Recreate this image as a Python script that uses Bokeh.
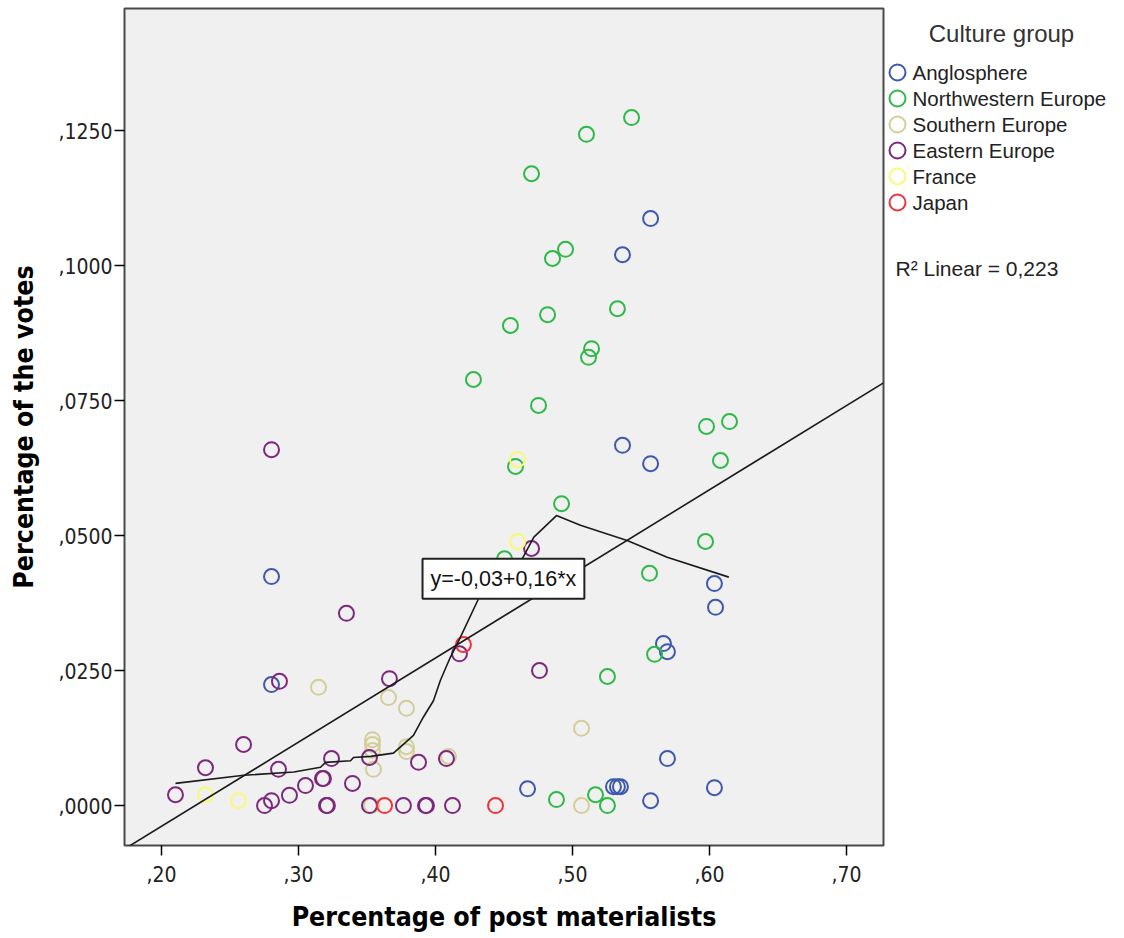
from bokeh.plotting import figure
from bokeh.layouts import row
from bokeh.models import Range1d, FixedTicker, Label, ColumnDataSource
from bokeh.core.properties import value
from bokeh.embed import file_html
from bokeh.resources import INLINE

# ---------------- data ----------------
groups = ["Anglosphere", "Northwestern Europe", "Southern Europe",
          "Eastern Europe", "France", "Japan"]
group_colors = ["#3E58AC", "#2EB848", "#D3CE97", "#7C287D", "#FBF873", "#EF3338"]

anglo_x = [0.557, 0.5365, 0.5365, 0.557, 0.6036, 0.6044, 0.5664, 0.5693, 0.2803,
           0.2803, 0.5693, 0.4672, 0.5299, 0.5328, 0.5350, 0.557, 0.6036]
anglo_y = [0.1087, 0.1020, 0.0667, 0.0633, 0.0411, 0.0367, 0.0300, 0.0285, 0.0424,
           0.0224, 0.0087, 0.0031, 0.0035, 0.0035, 0.0035, 0.0009, 0.0033]

nw_x = [0.5431, 0.5102, 0.4701, 0.4949, 0.4854, 0.4818, 0.4547, 0.5328, 0.5139,
        0.5117, 0.4277, 0.4752, 0.5978, 0.6146, 0.6080, 0.5971, 0.5562, 0.5599,
        0.5255, 0.4584, 0.4920, 0.4504, 0.4883, 0.5168, 0.5255]
nw_y = [0.1274, 0.1243, 0.1170, 0.1030, 0.1013, 0.0909, 0.0889, 0.0920, 0.0846,
        0.0830, 0.0789, 0.0741, 0.0702, 0.0711, 0.0639, 0.0489, 0.0430, 0.0280,
        0.0239, 0.0628, 0.0559, 0.0457, 0.0011, 0.0020, 0.0000]

south_x = [0.3146, 0.3657, 0.3788, 0.3540, 0.3540, 0.3540, 0.3547, 0.3788, 0.3788,
           0.4095, 0.3533, 0.5066, 0.5066]
south_y = [0.0219, 0.0200, 0.0180, 0.0122, 0.0113, 0.0102, 0.0067, 0.0109, 0.0100,
           0.0091, 0.0000, 0.0143, 0.0000]

east_x = [0.2803, 0.3350, 0.4701, 0.4175, 0.4759, 0.2861, 0.3664, 0.2599, 0.2321,
          0.2854, 0.3241, 0.3518, 0.3876, 0.4080, 0.2102, 0.2752, 0.2803, 0.2934,
          0.3051, 0.3175, 0.3182, 0.3394, 0.3204, 0.3211, 0.3518, 0.3766, 0.3927,
          0.3934, 0.4124]
east_y = [0.0659, 0.0356, 0.0476, 0.0281, 0.0250, 0.0230, 0.0235, 0.0113, 0.0070,
          0.0067, 0.0087, 0.0089, 0.0080, 0.0087, 0.0020, 0.0000, 0.0009, 0.0019,
          0.0037, 0.0050, 0.0050, 0.0041, 0.0000, 0.0000, 0.0000, 0.0000, 0.0000,
          0.0000, 0.0000]

france_x = [0.4599, 0.4599, 0.2321, 0.2562]
france_y = [0.0641, 0.0489, 0.0020, 0.0009]

japan_x = [0.4204, 0.3628, 0.4438]
japan_y = [0.0298, 0.0000, 0.0000]

# loess fit line
loess_x = [0.2102, 0.2601, 0.2966, 0.3161, 0.3197, 0.3380, 0.3401, 0.3526, 0.3693,
           0.3839, 0.3912, 0.3985, 0.4036, 0.4109, 0.4158, 0.4314, 0.4633, 0.4718,
           0.4883, 0.5058, 0.5253, 0.5399, 0.5691, 0.6141]
loess_y = [0.0041, 0.0056, 0.0062, 0.0071, 0.0080, 0.0083, 0.0089, 0.0091, 0.0097,
           0.0130, 0.0164, 0.0194, 0.0232, 0.0275, 0.0299, 0.0383, 0.0457, 0.0497,
           0.0537, 0.0519, 0.0503, 0.0491, 0.0460, 0.0423]

# linear fit
reg_intercept = -0.0350
reg_slope = 0.1558
reg_text = "y=-0,03+0,16*x"
r2_text = "R\u00b2 Linear = 0,223"
legend_title = "Culture group"

x_ticks = [0.2, 0.3, 0.4, 0.5, 0.6, 0.7]
x_tick_labels = [",20", ",30", ",40", ",50", ",60", ",70"]
y_ticks = [0.0, 0.025, 0.05, 0.075, 0.1, 0.125]
y_tick_labels = [",0000", ",0250", ",0500", ",0750", ",1000", ",1250"]

series_x = [anglo_x, nw_x, south_x, east_x, france_x, japan_x]
series_y = [anglo_y, nw_y, south_y, east_y, france_y, japan_y]

# ---------------- main figure ----------------
X0, X1 = 0.17299, 0.72701
Y0, Y1 = -0.0074, 0.1476
H = 938
TOP, BOTTOM = 8, 93

p = figure(width=885, height=H, output_backend="svg", toolbar_location=None,
           x_range=Range1d(X0, X1), y_range=Range1d(Y0, Y1),
           min_border_left=124, min_border_right=2,
           min_border_top=TOP, min_border_bottom=BOTTOM)
p.background_fill_color = "#F0F0F0"
p.border_fill_color = "white"
p.outline_line_color = "#4A4A4A"
p.outline_line_width = 2
p.grid.visible = False

TICK_FONT = "DejaVu Sans Condensed, Liberation Sans, sans-serif"

for ax in (p.xaxis[0], p.yaxis[0]):
    ax.axis_line_color = None
    ax.major_tick_out = 10
    ax.major_tick_in = 0
    ax.minor_tick_line_color = None
    ax.major_tick_line_color = "black"
    ax.major_tick_line_width = 1.5
    ax.major_label_text_font = TICK_FONT
    ax.major_label_text_font_size = "21px"
    ax.major_label_text_color = "#222222"
    ax.axis_label_text_font = TICK_FONT
    ax.axis_label_text_font_style = "bold"
    ax.axis_label_text_font_size = "26.5px"
    ax.axis_label_text_color = "black"

p.xaxis.ticker = FixedTicker(ticks=x_ticks)
p.xaxis.major_label_overrides = dict(zip(x_ticks, x_tick_labels))
p.yaxis.ticker = FixedTicker(ticks=y_ticks)
p.yaxis.major_label_overrides = dict(zip(y_ticks, y_tick_labels))
p.xaxis.major_label_standoff = 10
p.yaxis.major_label_standoff = 2
p.xaxis.axis_label = "Percentage of post materialists"
p.yaxis.axis_label = "Percentage of the votes"
p.xaxis.axis_label_standoff = 16
p.yaxis.axis_label_standoff = 16

for gx, gy, col in zip(series_x, series_y, group_colors):
    p.scatter(gx, gy, marker="circle", size=15, fill_color=None,
              line_color=col, line_width=2)

# fit lines
p.line([X0, X1], [reg_intercept + reg_slope * X0, reg_intercept + reg_slope * X1],
       line_color="#1A1A1A", line_width=1.6)
p.line(loess_x, loess_y, line_color="#1A1A1A", line_width=1.6)

# equation box
eq = Label(x=0.4496, y=0.0420, text=reg_text, text_align="center",
           text_baseline="middle", text_font="Liberation Sans",
           text_font_size="21.5px", text_color="#111111",
           background_fill_color="white", border_line_color="#222222",
           border_line_width=2, padding=8)
p.add_layout(eq)

# ---------------- legend panel (pixel space, frame aligned with main frame) ----------------
LW = 239
lg = figure(width=LW, height=H, output_backend="svg", toolbar_location=None,
            x_range=Range1d(0, LW), y_range=Range1d(BOTTOM, H - TOP),
            x_axis_type=None, y_axis_type=None,
            min_border_left=0, min_border_right=0,
            min_border_top=TOP, min_border_bottom=BOTTOM)
lg.outline_line_color = None
lg.grid.visible = False
lg.background_fill_color = "white"
lg.border_fill_color = "white"

# legend rows: first row centred 72 px below the page top, 26 px pitch
row_y = [H - (72 + 26 * i) for i in range(len(groups))]
leg_src = ColumnDataSource(dict(gx=[12] * len(groups), tx=[27] * len(groups),
                                y=row_y, label=groups, color=group_colors))
lg.scatter("gx", "y", source=leg_src, marker="circle", size=16, fill_color=None,
           line_color="color", line_width=2)
lg.text("tx", "y", text="label", source=leg_src, text_baseline="middle",
        text_align="left", text_font=value("Liberation Sans"),
        text_font_size="20.5px", text_color="#222222")

lg.add_layout(Label(x=116, y=H - 33, text=legend_title, text_align="center",
                    text_baseline="middle", text_font="Liberation Sans",
                    text_font_size="24px", text_color="#333333"))
lg.add_layout(Label(x=10, y=H - 268, text=r2_text, text_align="left",
                    text_baseline="middle", text_font="Liberation Sans",
                    text_font_size="21px", text_color="#222222"))

layout = row(p, lg, spacing=0)
open("out.html", "w").write(file_html(layout, INLINE))
